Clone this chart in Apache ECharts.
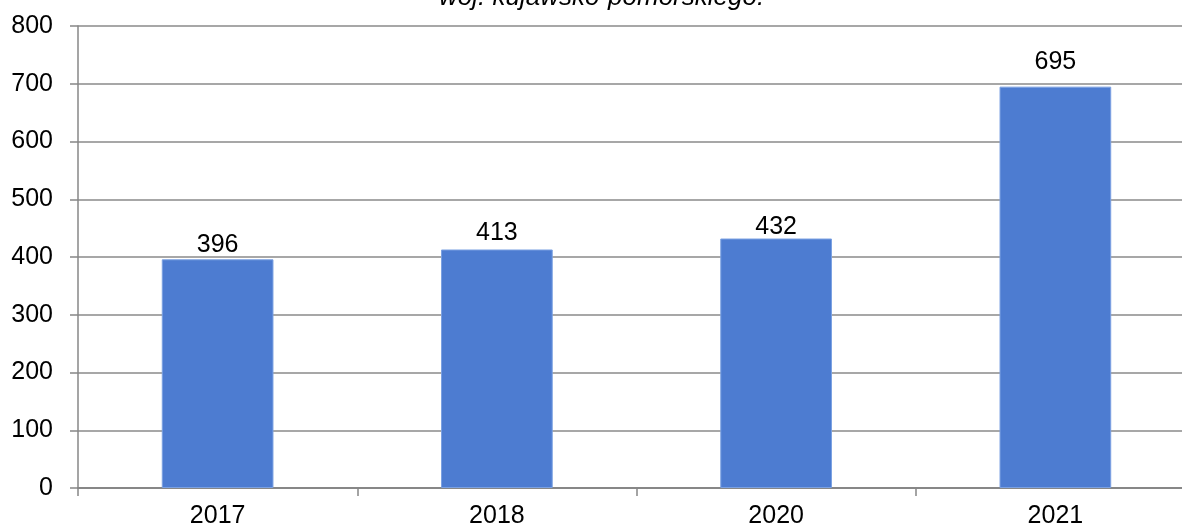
<!DOCTYPE html>
<html><head><meta charset="utf-8">
<script src="https://cdn.jsdelivr.net/npm/echarts@6/dist/echarts.min.js"></script>
<style>html,body{margin:0;padding:0;background:#fff;overflow:hidden}#c{width:1196px;height:529px}</style>
</head><body><div id="c"></div>
<script>
const categories = ['2017', '2018', '2020', '2021'];
const values = [396, 413, 432, 695];
const titleText = 'woj. kujawsko-pomorskiego.';

// label gaps above bars (style only), as in the reference
const labelGaps = [2, 4, -1, 12];

const chart = echarts.init(document.getElementById('c'), null, {renderer: 'canvas'});
chart.setOption({
  animation: false,
  backgroundColor: '#ffffff',
  title: {
    text: titleText,
    left: 434,
    top: -20,
    textStyle: {fontFamily: 'Liberation Sans, Arial', fontSize: 26, fontWeight: 'normal', fontStyle: 'italic', color: '#000'}
  },
  grid: {left: 78, top: 26, right: 1, height: 462, containLabel: false},
  xAxis: {
    type: 'category',
    data: categories,
    axisLine: {lineStyle: {color: '#878787', width: 2}},
    axisTick: {show: true, length: 8, lineStyle: {color: '#878787', width: 1.5}},
    axisLabel: {fontFamily: 'Liberation Sans, Arial', fontSize: 25, color: '#000', margin: 16}
  },
  yAxis: {
    type: 'value',
    min: 0, max: 800, interval: 100,
    axisLine: {show: true, lineStyle: {color: '#878787', width: 1.5}},
    axisTick: {show: true, length: 8, lineStyle: {color: '#878787', width: 1.5}},
    axisLabel: {fontFamily: 'Liberation Sans, Arial', fontSize: 25, color: '#000', margin: 25},
    splitLine: {lineStyle: {color: '#8a8a8a', width: 1.5}}
  },
  series: [{
    type: 'bar',
    data: values.map((v, i) => ({value: v, label: {distance: labelGaps[i]}})),
    barWidth: '40%',
    itemStyle: {color: '#4d7cd1', borderColor: '#7ba1e2', borderWidth: 1},
    label: {show: true, position: 'top', distance: 3, fontFamily: 'Liberation Sans, Arial', fontSize: 25, color: '#000'}
  }]
});
</script></body></html>
